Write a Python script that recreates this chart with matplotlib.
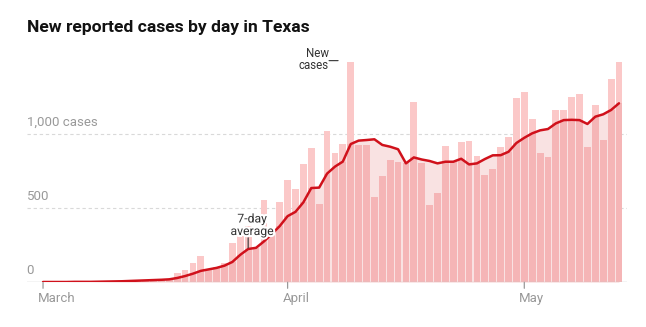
import numpy as np
import matplotlib
matplotlib.use("Agg")
import matplotlib.pyplot as plt
import matplotlib.patheffects as pe

# Daily new cases, March 1 through May 13
new_cases = [
    0, 0, 0, 1, 3, 2, 1, 2, 4, 3, 6, 8, 10, 14, 17, 20, 22,
    63, 85, 132, 175, 80, 100, 132, 266, 340, 380, 228, 554, 320, 540,
    688, 626, 795, 901, 527, 1018, 870, 933, 1483, 922, 922, 572, 715,
    822, 808, 800, 1210, 805, 520, 599, 920, 814, 943, 950, 850, 721,
    760, 911, 977, 1240,
    1277, 1098, 872, 840, 1158, 1162, 1248, 1267, 912, 1194, 958, 1367, 1483,
]

# 7-day rolling average of new cases
avg_7day = [
    2, 2, 2, 2, 3, 3, 3, 4, 5, 6, 7, 9, 11, 13, 15, 17, 20,
    29, 42, 58, 77, 87, 97, 112, 137, 185, 224, 232, 275, 325, 378,
    445, 474, 538, 634, 637, 731, 778, 812, 930, 953, 957, 962, 924,
    912, 895, 800, 840, 826, 816, 800, 811, 811, 831, 793, 800, 829,
    854, 855, 878, 937,
    972, 1002, 1022, 1031, 1069, 1091, 1093, 1091, 1065, 1114, 1130, 1159, 1204,
]

month_labels = ["March", "April", "May"]
month_days = [0, 31, 61]          # day offsets from March 1
grid_values = [500, 1000]
grid_labels = ["500", "1,000 cases"]

title = "New reported cases by day in Texas"

cases = np.array(new_cases, dtype=float)
avg = np.array(avg_7day, dtype=float)
days = np.arange(len(cases))

W, H = 646, 327
fig = plt.figure(figsize=(W / 100, H / 100), dpi=100)

# axes placement in pixels
ax_left, ax_right = 26.7, 626.7
ax_base, ax_top = 282.3, 59.3
ax = fig.add_axes([ax_left / W, (H - ax_base) / H,
                   (ax_right - ax_left) / W, (ax_base - ax_top) / H])
ax.set_xlim(-2.07, 73.98)
ax.set_ylim(0, 1500)
ax.axis("off")

dark_bar = "#f5b5b6"
light_bar = "#fbc8c8"
under_fill = "#f9e2e2"
line_red = "#d0111b"

# light shading under the average line
ax.fill_between(days, 0, avg, color=under_fill, lw=0, zorder=1)

# bars: part below the average darker, part above lighter
low = np.minimum(cases, avg)
high = np.clip(cases - avg, 0, None)
bw = 0.87
ax.bar(days, low, width=bw, color=dark_bar, lw=0, zorder=2)
ax.bar(days, high, bottom=low, width=bw, color=light_bar, lw=0, zorder=2)

# gridlines
for gv in grid_values:
    ax.axhline(gv, color="#d9d9d9", lw=0.8, ls=(0, (3, 2.5)), zorder=0.5)
ax.axhline(0, color="#c8c8c8", lw=1.0, zorder=3)

label_font = ["Roboto", "DejaVu Sans"]
for gv, gl in zip([0] + grid_values, ["0"] + grid_labels):
    ax.annotate(gl, xy=(0, gv), xycoords=("axes fraction", "data"),
                xytext=(0, 5), textcoords="offset pixels",
                ha="left", va="bottom", fontsize=9.5, color="#999999",
                family=label_font)

# month ticks and labels
for md, ml in zip(month_days, month_labels):
    ax.annotate(ml, xy=(md, 0), xycoords="data",
                xytext=(-5, -10), textcoords="offset pixels",
                ha="left", va="top", fontsize=9.5, color="#999999",
                family=label_font)
    ax.annotate("", xy=(md, 0), xycoords="data", xytext=(0, -6),
                textcoords="offset pixels",
                arrowprops=dict(arrowstyle="-", color="#999999", lw=0.9,
                                shrinkA=0, shrinkB=0))

# 7-day average line
ax.plot(days, avg, color=line_red, lw=1.8, solid_joinstyle="round",
        solid_capstyle="round", zorder=4)

halo = [pe.withStroke(linewidth=3, foreground="white")]

# "New cases" label with a short leader
peak_day = int(np.argmax(cases[:50]))
ax.annotate("New\ncases", xy=(peak_day - 2.75, cases[peak_day]), xycoords="data",
            xytext=(0, 2), textcoords="offset pixels",
            ha="right", va="center", fontsize=8.3, color="#333333",
            family=label_font, linespacing=0.9)
ax.annotate("", xy=(peak_day - 1.6, cases[peak_day] + 8), xycoords="data",
            xytext=(peak_day - 2.75, cases[peak_day] + 8), textcoords="data",
            arrowprops=dict(arrowstyle="-", color="#333333", lw=0.8,
                            shrinkA=0, shrinkB=0))

# "7-day average" label
avg_day = 26
ax.annotate("", xy=(avg_day, avg[avg_day] + 8), xycoords="data",
            xytext=(0, 10), textcoords="offset pixels",
            arrowprops=dict(arrowstyle="-", color="#333333", lw=0.8,
                            shrinkA=0, shrinkB=0), zorder=5)
ax.annotate("7-day\naverage", xy=(avg_day, avg[avg_day]), xycoords="data",
            xytext=(4, 11), textcoords="offset pixels",
            ha="center", va="bottom", fontsize=8.8, color="#333333",
            family=label_font, linespacing=0.95, path_effects=halo, zorder=5)

fig.text(27 / W, 1 - 32 / H, title, ha="left", va="baseline",
         fontsize=12.6, fontweight="bold", color="#121212",
         family=label_font)

fig.savefig("out.png", dpi=100, facecolor="white")
